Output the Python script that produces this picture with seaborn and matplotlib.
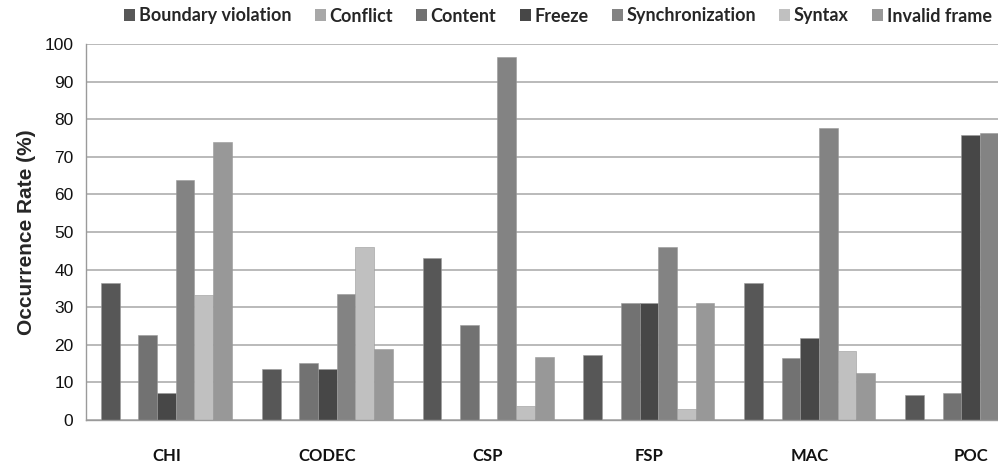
import numpy as np
import pandas as pd
import matplotlib
matplotlib.use("Agg")
import matplotlib.pyplot as plt
import seaborn as sns
from matplotlib.patches import Patch

categories = ["CHI", "CODEC", "CSP", "FSP", "MAC", "POC"]
series = ["Boundary violation", "Conflict", "Content", "Freeze",
          "Synchronization", "Syntax", "Invalid frame"]
boundary = [36.4, 13.6, 43.2, 17.3, 36.4, 6.7]
conflict = [0, 0, 0, 0, 0, 0]
content = [22.6, 15.2, 25.2, 31.0, 16.6, 7.1]
freeze = [7.1, 13.6, 0, 31.0, 21.7, 75.7]
sync = [63.8, 33.4, 96.5, 46.1, 77.6, 76.3]
syntax = [33.2, 46.1, 3.7, 2.8, 18.4, np.nan]
invalid = [73.9, 18.8, 16.7, 31.0, 12.6, np.nan]
yticks = [0, 10, 20, 30, 40, 50, 60, 70, 80, 90, 100]

colors = ["#575757", "#a8a8a8", "#727272", "#474747", "#838383", "#c0c0c0", "#989898"]

rows = []
for name, vals in zip(series, [boundary, conflict, content, freeze, sync, syntax, invalid]):
    for c, v in zip(categories, vals):
        rows.append({"cat": c, "series": name, "val": v})
df = pd.DataFrame(rows)

sns.set_style("white")
plt.rcParams["font.family"] = ["Liberation Sans", "DejaVu Sans"]

W, H = 998, 463
fig = plt.figure(figsize=(W / 100, H / 100), dpi=100)
left, right, bottom, top = 86, 1051, 420, 44
ax = fig.add_axes([left / W, (H - bottom) / H, (right - left) / W, (bottom - top) / H])

sns.barplot(data=df, x="cat", y="val", hue="series", order=categories,
            hue_order=series, palette=colors, width=131 / 161, gap=0,
            edgecolor="#9a9a9a", linewidth=0.4, ax=ax, legend=False,
            err_kws={"linewidth": 0})

ax.set_xlim(-0.5, len(categories) - 0.5)
ax.set_ylim(0, 100)
ax.set_yticks(yticks)
ax.set_yticklabels([str(t) for t in yticks], fontsize=12.5, color="#111111")
ax.yaxis.grid(True, color="#b4b4b4", linewidth=1.3)
ax.set_axisbelow(True)
for s in ["top", "right"]:
    ax.spines[s].set_visible(False)
for s in ["left", "bottom"]:
    ax.spines[s].set_color("#9a9a9a")
    ax.spines[s].set_linewidth(1.0)
ax.tick_params(axis="y", length=6, color="#9a9a9a", pad=3, direction="out")
ax.set_xticks(np.arange(len(categories)))
ax.set_xticklabels(categories, fontsize=12, fontweight="bold",
                   family=["Lato", "DejaVu Sans"], color="#111111")
ax.tick_params(axis="x", length=0, pad=20)
ax.set_xticks(np.arange(len(categories) + 1) - 0.5, minor=True)
ax.tick_params(axis="x", which="minor", length=5, color="#9a9a9a", direction="out")
ax.set_xlabel("")
ax.set_ylabel("Occurrence Rate (%)", fontsize=15, fontweight="bold", labelpad=6)

handles = [Patch(facecolor=c, edgecolor="none") for c in colors]
fig.legend(handles, series, loc="center", bbox_to_anchor=(558 / W, 1 - 16 / H),
           ncol=7, frameon=False, handlelength=0.6, handleheight=0.6,
           handletextpad=0.2, columnspacing=1.3,
           prop={"family": ["Lato", "DejaVu Sans"], "weight": "bold", "size": 13})

fig.savefig("out.png", dpi=100)
